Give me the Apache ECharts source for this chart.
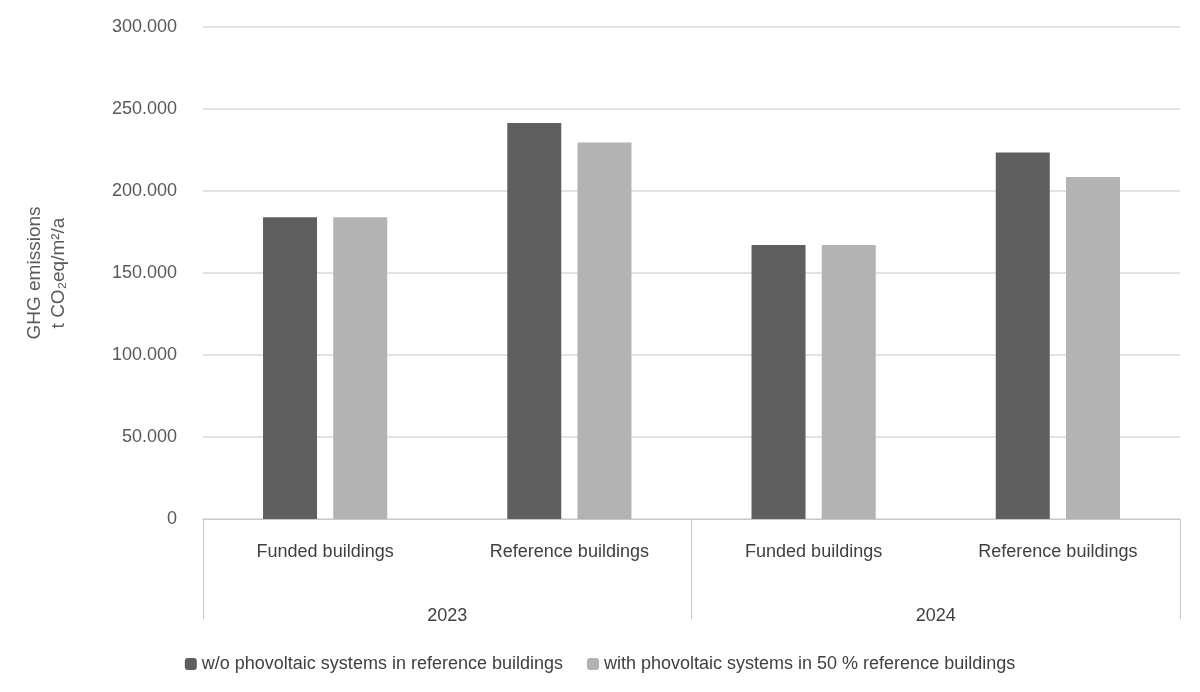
<!DOCTYPE html>
<html><head><meta charset="utf-8">
<script src="https://cdn.jsdelivr.net/npm/echarts@6/dist/echarts.min.js"></script>
<style>html,body{margin:0;background:#fff}#c{width:1200px;height:692px}</style>
</head><body><div id="c"></div>
<script>
var categories = ['Funded buildings', 'Reference buildings', 'Funded buildings', 'Reference buildings'];
var years = ['2023', '2024'];
var withoutPv = [184000, 241500, 167000, 223500];
var withPv = [184000, 229500, 167000, 208500];
var seriesNames = ['w/o phovoltaic systems in reference buildings', 'with phovoltaic systems in 50 % reference buildings'];

function fmt(v) {
  if (v === 0) return '0';
  return String(v).replace(/\B(?=(\d{3})+(?!\d))/g, '.');
}
var font = 'Liberation Sans, Arial, sans-serif';
var chart = echarts.init(document.getElementById('c'));
chart.setOption({
  textStyle: { fontFamily: font },
  grid: { left: 203, right: 20, top: 27, bottom: 173 },
  legend: {
    bottom: 14, left: 'center', itemWidth: 12, itemHeight: 12, itemGap: 24,
    textStyle: { fontSize: 18, color: '#404040', fontFamily: font },
    data: seriesNames
  },
  xAxis: [{
    type: 'category', data: categories,
    axisLine: { lineStyle: { color: '#c8c8c8' } },
    axisTick: { show: true, length: 100, lineStyle: { color: '#c8c8c8' }, interval: function (i) { return i % 2 === 0; } },
    axisLabel: { fontSize: 18, color: '#404040', margin: 24 }
  }, {
    type: 'category', data: years, position: 'bottom', offset: 100,
    axisLine: { show: false },
    axisTick: { show: false },
    axisLabel: { fontSize: 18, color: '#404040', margin: -12 }
  }],
  yAxis: {
    type: 'value', min: 0, max: 300000, interval: 50000,
    axisLabel: { formatter: fmt, fontSize: 18, color: '#595959', margin: 26 },
    splitLine: { lineStyle: { color: '#d9d9d9', width: 1.5 } },
    name: 'GHG emissions\nt CO₂eq/m²/a', nameLocation: 'middle', nameGap: 132, nameRotate: 90,
    nameTextStyle: { fontSize: 19, color: '#595959', lineHeight: 24 }
  },
  series: [{
    name: seriesNames[0], type: 'bar', data: withoutPv, barWidth: 54, barGap: '30%',
    itemStyle: { color: '#5f5f5f' }
  }, {
    name: seriesNames[1], type: 'bar', data: withPv, barWidth: 54,
    itemStyle: { color: '#b3b3b3' }
  }]
});
</script></body></html>
